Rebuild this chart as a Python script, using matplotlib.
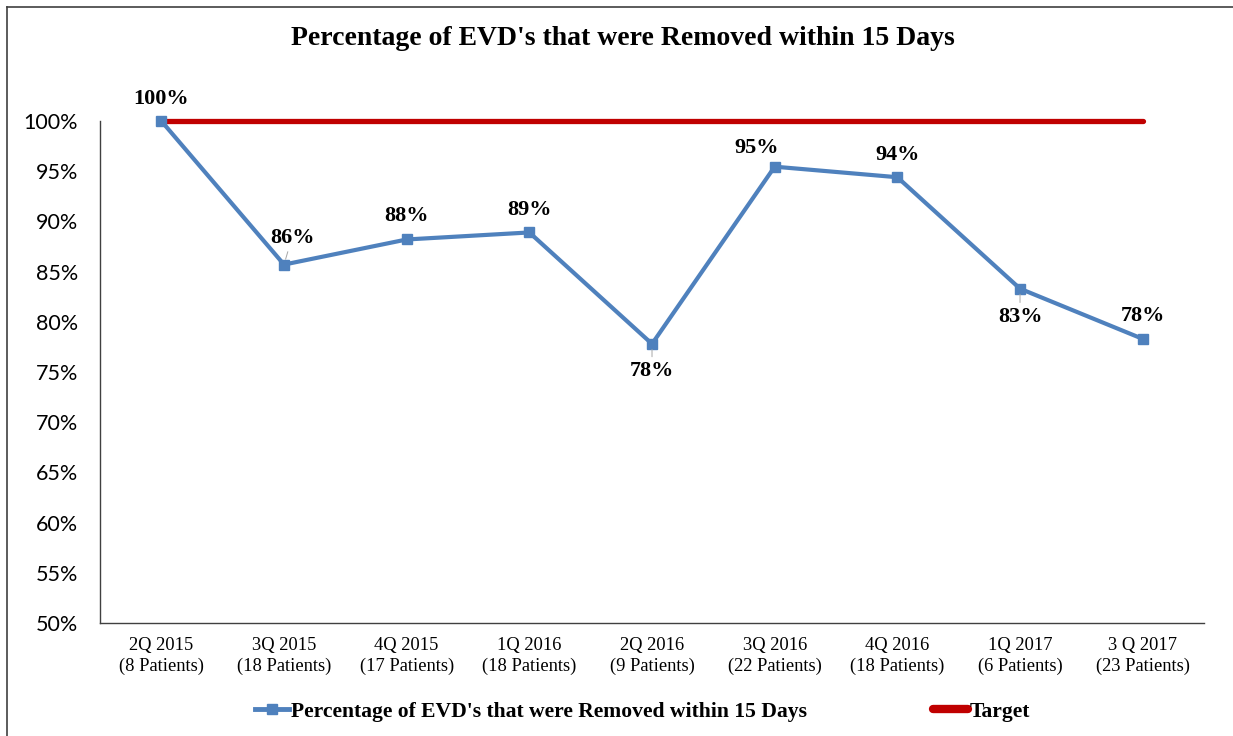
import matplotlib
matplotlib.use('Agg')
import matplotlib.pyplot as plt
from matplotlib.lines import Line2D
from matplotlib.ticker import PercentFormatter

# data
quarters = ['2Q 2015', '3Q 2015', '4Q 2015', '1Q 2016', '2Q 2016',
            '3Q 2016', '4Q 2016', '1Q 2017', '3 Q 2017']
patients = [8, 18, 17, 18, 9, 22, 18, 6, 23]
pct_removed = [100.0, 85.7, 88.2, 88.9, 77.8, 95.45, 94.4, 83.3, 78.3]
target = [100.0] * len(quarters)

series_name = "Percentage of EVD's that were Removed within 15 Days"
title = "Percentage of EVD's that were Removed within 15 Days"

serif = ['Liberation Serif', 'DejaVu Serif']
sans = ['Lato', 'DejaVu Sans']

fig = plt.figure(figsize=(12.33, 7.36), dpi=100)
ax = fig.add_axes([0.0811, 0.1535, 0.8954, 0.6821])

x = list(range(len(quarters)))
line_main, = ax.plot(x, pct_removed, color='#4f81bd', lw=3, marker='s',
                     markersize=7, clip_on=False, zorder=4,
                     label=series_name)
line_tgt, = ax.plot(x, target, color='#c00000', lw=3.8,
                    solid_capstyle='round', clip_on=False, zorder=3,
                    label='Target')

# data labels: (dx, dy) offsets in pixels, leader line or not
label_offsets = [(0, 22, False), (8, 27, True), (0, 23, False),
                 (0, 22, False), (0, -27, True), (-18, 19, False),
                 (0, 22, False), (0, -28, True), (0, 23, False)]
for xi, v, (dx, dy, lead) in zip(x, pct_removed, label_offsets):
    kw = {}
    if lead:
        kw['arrowprops'] = dict(arrowstyle='-', color='#a6a6a6', lw=0.7,
                                shrinkA=1, shrinkB=4)
    ax.annotate(f'{round(v):.0f}%', (xi, v), xytext=(dx, dy),
                textcoords='offset pixels', ha='center', va='center',
                fontsize=16, fontweight='bold', family=serif, zorder=5, **kw)

ax.set_ylim(50, 100)
ax.set_xlim(-0.5, len(quarters) - 0.5)
ax.set_yticks(range(50, 101, 5))
ax.yaxis.set_major_formatter(PercentFormatter(decimals=0))
ax.set_xticks(x)
ax.set_xticklabels([f'{q}\n({p} Patients)' for q, p in zip(quarters, patients)],
                   family=serif, fontsize=13.3, linespacing=1.25)
for t in ax.get_yticklabels():
    t.set_family(sans)
    t.set_fontsize(15.5)
ax.tick_params(axis='y', length=0, pad=16)
ax.tick_params(axis='x', length=0, pad=10)

for s in ['top', 'right']:
    ax.spines[s].set_visible(False)
for s in ['left', 'bottom']:
    ax.spines[s].set_color('#404040')
    ax.spines[s].set_linewidth(1.0)

fig.text(0.505, 0.948, title, ha='center', va='center', fontsize=20,
         fontweight='bold', family=serif)

leg = fig.legend(handles=[line_main, line_tgt], loc='center',
                 bbox_to_anchor=(0.521, 0.033), ncol=2, frameon=False,
                 prop={'family': serif, 'weight': 'bold', 'size': 15.6},
                 handlelength=1.6, handletextpad=0.1, columnspacing=5.8)
leg.legend_handles[0].set_linewidth(3.5)
leg.legend_handles[1].set_linewidth(6)
leg.legend_handles[1].set_solid_capstyle('round')

# outer chart border (left and top visible in reference)
fig.add_artist(Line2D([0.0057, 0.0057], [0, 0.9905], color='#404040', lw=1.2,
                      transform=fig.transFigure))
fig.add_artist(Line2D([0.0057, 1.0], [0.9905, 0.9905], color='#404040', lw=1.2,
                      transform=fig.transFigure))

plt.savefig('out.png', dpi=100)
plt.close()
